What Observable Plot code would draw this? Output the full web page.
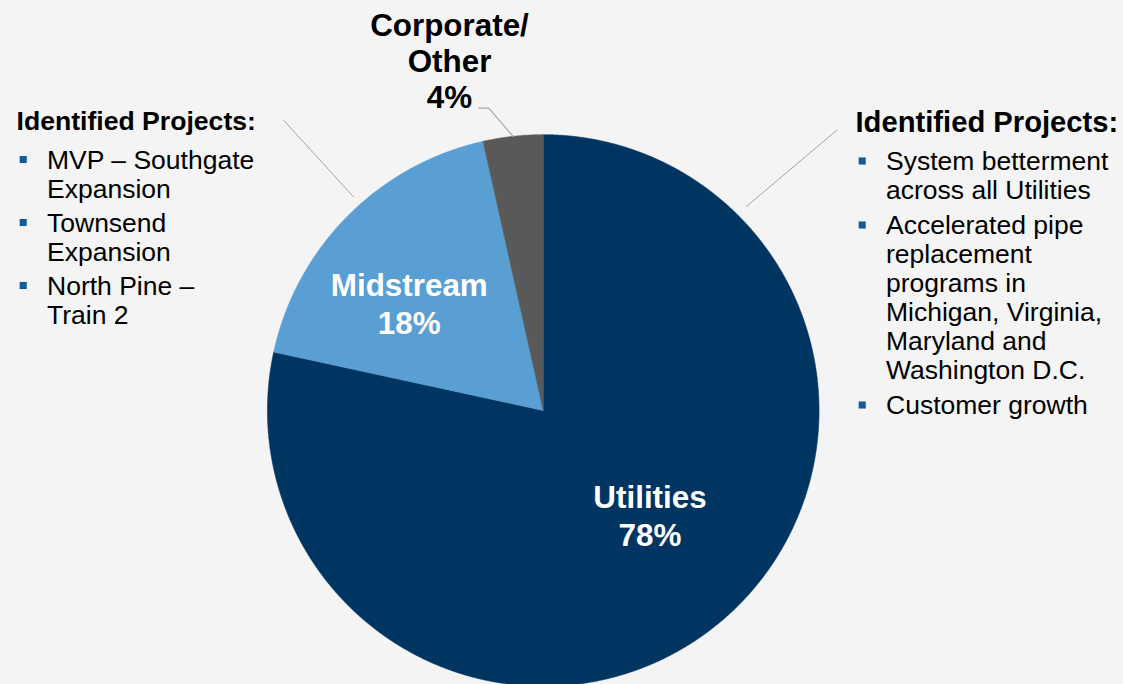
<!DOCTYPE html>
<html><head><meta charset="utf-8">
<script src="https://cdn.jsdelivr.net/npm/d3@7"></script>
<script src="https://cdn.jsdelivr.net/npm/@observablehq/plot@0.6"></script>
<style>
html,body{margin:0;padding:0;background:#f4f4f4;overflow:hidden}
#chart svg{display:block}
</style>
</head><body><div id="chart"></div>
<script>
// ---- data ----
const segments = ["Utilities", "Midstream", "Corporate/Other"];
const segmentLabels = ["Utilities", "Midstream", "Corporate/\nOther"];
const shares = [78.4, 18.1, 3.5];
const shareLabels = ["78%", "18%", "4%"];
const sliceColors = ["#003562", "#5a9fd4", "#595959"];
const leftTitle = "Identified Projects:";
const leftBullets = [["MVP – Southgate", "Expansion"], ["Townsend", "Expansion"], ["North Pine –", "Train 2"]];
const rightTitle = "Identified Projects:";
const rightBullets = [["System betterment", "across all Utilities"],
  ["Accelerated pipe", "replacement", "programs in", "Michigan, Virginia,", "Maryland and", "Washington D.C."],
  ["Customer growth"]];

// ---- layout (pixels) ----
const W = 1123, H = 684;
const CX = 542.75, CY = 410, R = 275.8;
const ux = p => (p - CX) / R;   // pixel -> pie unit (annotations)
const uy = p => (CY - p) / R;
const FONT = "'Liberation Sans', Arial, Helvetica, sans-serif";

// ---- pie geometry from values ----
const total = d3.sum(shares);
let acc = 0;
const slices = segments.map((name, i) => {
  const a0 = acc / total * 2 * Math.PI; acc += shares[i];
  const a1 = acc / total * 2 * Math.PI;
  return {name, label: segmentLabels[i] + "\n" + shareLabels[i], a0, a1, mid: (a0 + a1) / 2};
});
const piePoints = slices.flatMap(s => {
  const n = Math.max(2, Math.ceil((s.a1 - s.a0) / (Math.PI / 720)));
  const pts = [{name: s.name, x: 0, y: 0}];
  for (let k = 0; k <= n; k++) {
    const a = s.a0 + (s.a1 - s.a0) * k / n;
    pts.push({name: s.name, x: Math.sin(a), y: Math.cos(a)});
  }
  pts.push({name: s.name, x: 0, y: 0});
  return pts;
});
const polar = (s, r) => ({x: r * Math.sin(s.mid), y: r * Math.cos(s.mid)});
const sliceByName = Object.fromEntries(slices.map(s => [s.name, s]));

// corporate leader: from arc at mid-angle, elbow, horizontal
const corp = sliceByName["Corporate/Other"];
const cArc = polar(corp, 1);
const corpLeader = [
  {x: cArc.x, y: cArc.y},
  {x: cArc.x - 24.2 / R, y: cArc.y + 28.2 / R},
  {x: cArc.x - 34.2 / R, y: cArc.y + 28.2 / R}
].map(p => ({...p, g: "corp"}));
const sideLeaders = [
  {x: ux(283.3), y: uy(120), g: "L"}, {x: ux(353.3), y: uy(196.7), g: "L"},
  {x: ux(836.7), y: uy(129.3), g: "R"}, {x: ux(746), y: uy(206), g: "R"}
];

// bullet list layout
function listLayout(bullets, firstBaseline, step, gap, textX, bulletX) {
  const lines = [], dots = [];
  let y = firstBaseline - step;
  bullets.forEach((item, bi) => {
    item.forEach((t, li) => {
      y += step + (li === 0 && bi > 0 ? gap : 0);
      if (li === 0) dots.push({x: ux(bulletX), y: uy(y - 9)});
      lines.push({text: t, x: ux(textX), y: uy(y)});
    });
  });
  return {lines, dots};
}
const L = listLayout(leftBullets, 168, 29, 5, 46.5, 22.7);
const Rt = listLayout(rightBullets, 169.5, 29, 6, 885.5, 861.7);
const titles = [
  {text: leftTitle, x: ux(16), y: uy(129.3)},
  {text: rightTitle, x: ux(855), y: uy(131.7)}
];

const inside = ["Utilities", "Midstream"];
const labelOffsets = {Utilities: [2.9, 6.9], Midstream: [-16.6, 39.9]};

const plot = Plot.plot({
  width: W, height: H, margin: 0,
  x: {domain: [-1, 1], range: [CX - R, CX + R], axis: null},
  y: {domain: [-1, 1], range: [CY + R, CY - R], axis: null},
  color: {domain: segments, range: sliceColors},
  style: {background: "#f4f4f4", fontFamily: FONT, overflow: "visible"},
  marks: [
    Plot.line(piePoints, {x: "x", y: "y", z: "name", fill: "name", stroke: "name", strokeWidth: 0.6, curve: "linear"}),
    ...inside.map(nm => Plot.text(slices.filter(s => s.name === nm), {
      x: s => polar(s, 0.6).x, y: s => polar(s, 0.6).y,
      dx: labelOffsets[nm][0], dy: labelOffsets[nm][1],
      text: "label", lineAnchor: "bottom", textAnchor: "middle", lineHeight: 1.21,
      fill: "white", fontSize: 31.4, fontWeight: "bold"
    })),
    Plot.text([corp], {
      x: cArc.x, y: cArc.y, dx: -63.5, dy: -27.9,
      text: "label", lineAnchor: "bottom", textAnchor: "middle", lineHeight: 1.15,
      fill: "black", fontSize: 31.4, fontWeight: "bold"
    }),
    Plot.line(corpLeader, {x: "x", y: "y", z: "g", stroke: "#a6a6a6", strokeWidth: 1.2}),
    Plot.line(sideLeaders, {x: "x", y: "y", z: "g", stroke: "#a6a6a6", strokeWidth: 1}),
    Plot.text(titles.slice(0, 1), {x: "x", y: "y", text: "text", textAnchor: "start", lineAnchor: "bottom", fontSize: 26.6, fontWeight: "bold", fill: "black"}),
    Plot.text(titles.slice(1), {x: "x", y: "y", text: "text", textAnchor: "start", lineAnchor: "bottom", fontSize: 29.2, fontWeight: "bold", fill: "black"}),
    Plot.text([...L.lines, ...Rt.lines], {x: "x", y: "y", text: "text", textAnchor: "start", lineAnchor: "bottom", fontSize: 26.5, fill: "black"}),
    Plot.dot([...L.dots, ...Rt.dots], {x: "x", y: "y", symbol: "square", r: 4, fill: "#125b98", stroke: "none"})
  ]
});
document.getElementById("chart").appendChild(plot);
</script>
</body></html>
